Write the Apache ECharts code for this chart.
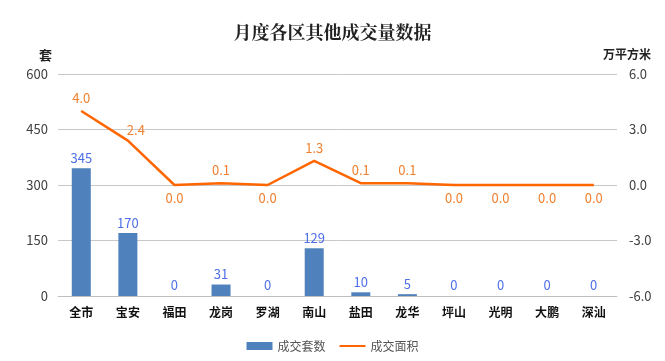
<!DOCTYPE html>
<html><head><meta charset="utf-8">
<script src="https://cdn.jsdelivr.net/npm/echarts@6/dist/echarts.min.js"></script>
<style>html,body{margin:0;padding:0;background:#fff}#c{width:665px;height:361px}</style>
</head><body><div id="c"></div>
<script>
var categories = ['全市','宝安','福田','龙岗','罗湖','南山','盐田','龙华','坪山','光明','大鹏','深汕'];
var countValues = [345,170,0,31,0,129,10,5,0,0,0,0];
var areaValues = [4.0,2.4,0.0,0.1,0.0,1.3,0.1,0.1,0.0,0.0,0.0,0.0];
var areaLabelPos = ['top','right','bottom','top','bottom','top','top','top','bottom','bottom','bottom','bottom'];
var leftTicks = [0,150,300,450,600];
var rightTicks = [-6,-3,0,3,6];

var chart = echarts.init(document.getElementById('c'));
var font = '"Microsoft YaHei","Noto Sans CJK SC",sans-serif';
chart.setOption({
  animation:false,
  textStyle:{fontFamily:font},
  title:{text:'月度各区其他成交量数据',left:'center',top:18,textStyle:{fontSize:18,fontWeight:'bold',color:'#222',fontFamily:'"Noto Serif CJK SC","Noto Sans CJK SC",serif'}},
  legend:{bottom:4,left:'center',itemWidth:26,itemHeight:8,itemGap:14,textStyle:{fontSize:12,color:'#555'},
    data:[{name:'成交套数',icon:'rect'},{name:'成交面积',icon:'path://M0,4L26,4L26,6L0,6Z'}]},
  grid:{left:58,right:48,top:74,bottom:65},
  xAxis:{type:'category',data:categories,axisTick:{show:false},
    axisLine:{lineStyle:{color:'#bfbfbf'}},
    axisLabel:{fontSize:12,fontWeight:'bold',color:'#111',margin:10}},
  yAxis:[
    {type:'value',min:0,max:600,interval:150,name:'套',nameLocation:'end',nameGap:12,
     nameTextStyle:{fontSize:13,fontWeight:'bold',color:'#222',align:'right',padding:[0,6,0,0]},
     axisLine:{show:false},axisTick:{show:false},
     axisLabel:{fontSize:13,color:'#404040',margin:10},
     splitLine:{lineStyle:{color:'#c8c8c8'}}},
    {type:'value',min:-6,max:6,interval:3,name:'万平方米',nameLocation:'end',nameGap:14,
     nameTextStyle:{fontSize:12,fontWeight:'bold',color:'#222',padding:[0,0,0,20]},
     axisLine:{show:false},axisTick:{show:false},
     axisLabel:{fontSize:13,color:'#404040',margin:12,formatter:function(v){return v.toFixed(1);}},
     splitLine:{show:false}}
  ],
  series:[
    {name:'成交套数',type:'bar',data:countValues,barWidth:19,yAxisIndex:0,
     itemStyle:{color:'#4F81BD'},
     label:{show:true,position:'top',fontSize:13,color:'#4d6fe8',distance:4}},
    {name:'成交面积',type:'line',yAxisIndex:1,symbol:'circle',symbolSize:1,showSymbol:true,
     data:areaValues.map(function(v,i){
       var lab = {position:areaLabelPos[i]};
       if (i===1) { lab.position='top'; lab.offset=[8,2]; }
       return {value:v,label:lab};}),
     lineStyle:{color:'#FF6600',width:2.5},itemStyle:{color:'#FF6600'},
     label:{show:true,fontSize:13,color:'#f08030',distance:6,formatter:function(p){return p.value.toFixed(1);}}}
  ]
});
</script></body></html>
